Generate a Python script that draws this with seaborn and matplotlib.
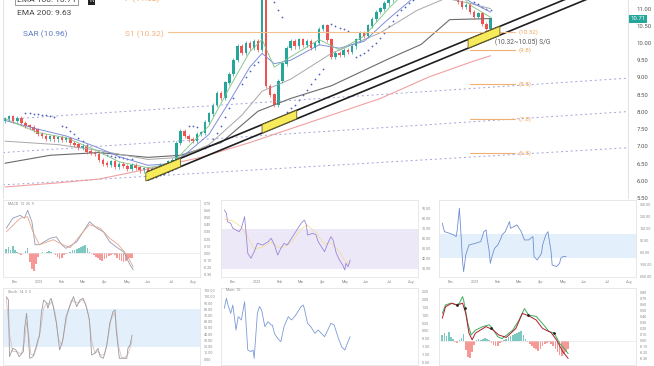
import matplotlib
matplotlib.use("Agg")
import matplotlib.pyplot as plt
import seaborn as sns

# ===================== PRICE DATA =====================
closes = [7.80, 7.86, 7.75, 7.82, 7.68, 7.60, 7.55, 7.48,
          7.35, 7.30, 7.22, 7.28, 7.20, 7.25, 7.18, 7.22,
          7.10, 7.05, 6.95, 7.00, 6.85, 6.80, 6.78,
          6.60, 6.50, 6.45, 6.55, 6.40, 6.48, 6.42, 6.35, 6.45, 6.38, 6.30, 6.35,
          6.25,
          6.35, 6.30, 6.45, 6.40, 6.55, 6.60,
          7.10, 7.45, 7.30,
          7.20, 7.15, 7.35, 7.40,
          7.70, 7.95, 8.20, 8.55, 8.40, 8.85,
          9.10, 9.50,
          9.90, 9.70, 10.00, 9.85, 10.05, 9.80,
          11.60, 8.75, 8.50, 8.20, 8.90, 9.40,
          9.85, 10.05, 9.90, 10.10, 9.95, 10.05, 9.85, 10.00,
          10.40, 10.50, 10.10, 9.60,
          9.70, 9.65, 9.80, 9.75, 9.90,
          10.10, 10.30, 10.20, 10.50, 10.70, 10.90,
          11.00, 11.15, 11.25,
          11.45, 11.60, 11.80, 11.70, 11.95, 12.10, 12.00, 12.20,
          12.30, 12.15, 12.25, 12.05, 11.90, 11.70, 11.60, 11.40,
          11.20, 11.05, 11.10, 10.90, 10.75, 10.85, 10.55, 10.40,
          10.71]
first_open = 7.75
wick = 0.06

ema200_idx = [0, 13, 23, 35, 48, 60, 72, 80, 92, 104, 115, 119]
ema200_val = [5.82, 5.94, 6.05, 6.34, 6.68, 7.11, 7.59, 7.91, 8.39, 9.02, 9.48, 9.63]
ema100_idx = [0, 11, 23, 35, 43, 53, 62, 70, 80, 94, 102, 109, 119]
ema100_val = [6.51, 6.74, 6.82, 6.68, 6.74, 7.11, 8.02, 8.39, 8.76, 9.54, 9.96, 10.68, 10.71]
ema50_idx = [0, 13, 23, 35, 43, 50, 58, 63, 70, 80, 92, 101, 108, 114, 119]
ema50_val = [7.15, 7.05, 6.88, 6.62, 6.68, 7.05, 7.90, 8.60, 8.95, 9.70, 10.30, 10.95, 11.30, 11.15, 11.00]
ema20_idx = [0, 8, 15, 22, 28, 35, 41, 45, 50, 55, 60, 63, 66, 70, 77, 82, 88, 94, 100, 108, 114, 119]
ema20_val = [7.75, 7.50, 7.30, 7.00, 6.70, 6.45, 6.50, 6.85, 7.35, 8.30, 9.30, 9.70, 9.40, 9.50,
             9.95, 9.85, 10.05, 10.70, 11.30, 11.70, 11.20, 10.90]
ema10_idx = ema20_idx
ema10_val = [7.80, 7.40, 7.25, 6.90, 6.55, 6.38, 6.50, 7.00, 7.60, 8.70, 9.75, 10.10, 9.30, 9.60,
             10.10, 9.80, 10.20, 11.00, 11.70, 11.90, 11.10, 10.75]

sar_idx = (list(range(5, 13)) + list(range(14, 21)) + list(range(23, 32)) + list(range(35, 43))
           + list(range(45, 48)) + list(range(49, 57)) + list(range(58, 63)) + list(range(64, 69))
           + list(range(69, 79)) + list(range(80, 85)) + list(range(86, 95)) + list(range(95, 105))
           + list(range(111, 120)))
sar_val = [7.98, 7.97, 7.95, 7.93, 7.92, 7.90, 7.88, 7.86,
           7.60, 7.55, 7.45, 7.35, 7.25, 7.15, 7.05,
           6.85, 6.80, 6.76, 6.72, 6.70, 6.68, 6.66, 6.64, 6.62,
           6.05, 6.08, 6.12, 6.16, 6.20, 6.25, 6.30, 6.38,
           7.60, 7.58, 7.56,
           6.95, 7.05, 7.20, 7.40, 7.60, 7.85, 8.10, 8.40,
           8.80, 9.00, 9.20, 9.35, 9.45,
           11.80, 11.50, 11.20, 10.95, 10.75,
           8.00, 8.10, 8.20, 8.35, 8.50, 8.65, 8.80, 8.95, 9.10, 9.25,
           10.55, 10.50, 10.45, 10.40, 10.35,
           9.60, 9.65, 9.70, 9.80, 9.90, 10.00, 10.15, 10.30, 10.50,
           10.65, 10.80, 10.95, 11.05, 11.15, 11.25, 11.35, 11.45, 11.55, 11.65,
           11.60, 11.50, 11.40, 11.30, 11.20, 11.12, 11.05, 11.00, 10.96]

# trend channel (two solid lines) and dashed guide lines: (start idx, start price, end idx, end price)
trend_upper = (34.8, 6.25, 160.0, 12.38)
trend_lower = (35.0, 6.02, 160.0, 12.12)
guide_lines = [(-0.5, 7.78, 152.7, 8.98), (-0.5, 6.82, 152.7, 8.01), (-0.5, 5.88, 152.7, 6.96)]
zone_ranges = [(34.5, 43.0), (63.0, 71.5), (113.5, 121.3)]
s1_level = 10.32
target_levels = [9.8, 8.8, 7.8, 6.8]
target_labels = ["(9.8)", "(8.8)", "(7.8)", "(6.8)"]
price_ticks = [5.5, 6.0, 6.5, 7.0, 7.5, 8.0, 8.5, 9.0, 9.5, 10.0, 10.5, 11.0]
last_price = 10.71

# ===================== INDICATOR DATA =====================
month_pos = [8, 31, 52, 72, 92, 113, 133, 155, 175]
month_labels = ["Dec", "2023", "Feb", "Mar", "Apr", "May", "Jun", "Jul", "Aug"]

macd_idx = [0, 6, 13, 17, 20, 24, 27, 31, 41, 47, 52, 56, 66, 75, 78, 85, 91, 97, 103, 110, 116, 119]
macd_val = [0.35, 0.49, 0.53, 0.49, 0.60, 0.44, 0.12, 0.12, 0.21, 0.23, 0.12, 0.07, 0.16, 0.37,
            0.44, 0.35, 0.30, 0.16, 0.09, 0.02, -0.16, -0.23]
signal_idx = [0, 13, 20, 25, 31, 44, 53, 60, 72, 78, 88, 97, 105, 113, 119]
signal_val = [0.30, 0.49, 0.51, 0.30, 0.12, 0.19, 0.12, 0.08, 0.30, 0.40, 0.35, 0.21, 0.12, -0.02, -0.19]
hist_idx = list(range(0, 120, 2))
hist_val = [0.06, 0.09, 0.05, 0.10, 0.04, 0.02, -0.01, -0.02, 0.01, 0.03,
            0.08, -0.12, -0.22, -0.25, -0.15, -0.05, 0.01, 0.02, 0.01, 0.02,
            0.03, 0.02, 0.01, -0.02, -0.05, -0.08, -0.07, -0.03, -0.01, 0.01,
            0.02, 0.04, 0.05, 0.06, 0.08, 0.09, 0.10, 0.11, 0.07, 0.02,
            -0.01, -0.03, -0.05, -0.07, -0.09, -0.10, -0.08, -0.06, -0.04, -0.02,
            -0.01, -0.03, -0.06, -0.09, -0.11, -0.12, -0.10, -0.08, -0.07, -0.06]

rsi_idx = [0, 2, 3, 6, 8, 11, 14, 16, 19, 20, 22, 25, 28, 31, 36, 41, 44, 47, 50, 53, 56, 59,
           63, 67, 72, 75, 77, 78, 83, 86, 88, 91, 94, 97, 100, 102, 105, 108, 111, 113, 114, 116, 118]
rsi_val = [89, 85.7, 77.3, 75.7, 70.7, 69, 67.3, 70.7, 82.3, 70.7, 45.7, 40.7, 47.3, 55.7, 54,
           57.3, 60.7, 54, 44, 50.7, 55.7, 54, 60.7, 67.3, 75.7, 79, 74, 64, 65.7, 64, 57.3,
           52.3, 47.3, 55.7, 62.3, 59, 45.7, 39, 34, 29, 35.7, 32.3, 39]
rsi_ma_idx = [0, 8, 16, 22, 28, 36, 44, 50, 56, 63, 72, 78, 86, 94, 100, 108, 113, 118]
rsi_ma_val = [80, 78, 72, 62, 50, 52, 57, 52, 52, 57, 70, 74, 66, 55, 56, 47, 38, 35]

cci_idx = [0, 2, 7, 11, 13, 14, 16, 17, 19, 20, 22, 25, 31, 36, 39, 41, 42, 44, 45, 47, 49, 52,
           55, 56, 59, 63, 64, 67, 70, 74, 77, 81, 85, 86, 89, 93, 94, 97, 99, 100, 102, 103,
           107, 110, 111, 113, 116]
cci_val = [192, 122, 108, 94, 81, 136, 317, 178, -128, -211, -72, 11, 25, 39, 122, 136, 67, -44,
           -142, -72, -17, 11, 67, 94, 122, 206, 150, 164, 178, 122, 53, 53, 81, -86, -114, -58,
           11, 94, 122, 67, -44, -156, -169, -142, -100, -86, -86]

stk_idx = [0, 2, 3, 6, 9, 12, 16, 17, 19, 20, 22, 25, 28, 30, 31, 33, 35, 38, 39, 41, 42, 44,
           47, 50, 53, 56, 60, 63, 66, 69, 72, 75, 78, 80, 83, 86, 88, 91, 94, 97, 100, 102, 103,
           106, 110, 113, 114, 116, 118]
stk_val = [100.4, 95, 3.9, 17.3, 14.6, 3.9, 12, 46.8, 73.6, 52, 1.3, 3.9, 20, 33.4, 36.1, 76.3,
           95, 89.6, 81.6, 95, 97.7, 84.3, 57.5, 14.6, 30.7, 68.2, 87, 100.4, 84.3, 95, 97.7,
           84.3, 62.9, 6.6, 9.3, 17.3, 3.9, 1.3, 20, 57.5, 76.3, 78.9, 46.8, 1.3, 1.3, 1.3, 17.3,
           22.7, 38.8]
std_idx = [0, 3, 6, 10, 14, 17, 19, 21, 23, 26, 29, 32, 35, 38, 41, 43, 46, 49, 52, 55, 58, 61,
           64, 68, 71, 74, 77, 80, 83, 86, 89, 92, 95, 98, 101, 103, 105, 108, 111, 114, 116, 118]
std_val = [98, 40, 12, 12, 8, 28, 60, 40, 8, 6, 22, 45, 82, 90, 88, 93, 72, 32, 22, 50, 78, 95,
           92, 90, 96, 90, 72, 30, 10, 12, 6, 8, 30, 62, 75, 60, 22, 3, 2, 8, 18, 30]

mom_idx = [0, 2, 3, 6, 8, 11, 13, 16, 19, 20, 22, 25, 27, 28, 31, 33, 35, 38, 41, 44, 45, 47,
           50, 53, 56, 60, 63, 66, 69, 72, 74, 75, 78, 81, 85, 88, 91, 94, 97, 100, 103, 107,
           110, 113, 116, 118]
mom_val = [1.44, 2.08, 1.76, 1.12, 1.65, 0.06, 0.91, 0.70, 1.86, 0.91, -1.21, -1.31, -1.21,
           -1.74, 1.12, 1.55, 1.33, 0.28, 0.59, 0.38, 0.38, -0.15, -0.47, -0.68, 0.28, 0.91,
           0.70, 0.91, 1.23, 1.55, 1.65, 1.44, 0.49, 0.28, -0.15, 0.06, -0.15, -0.36, 0.06, 0.49,
           0.38, -0.47, -1.00, -1.21, -0.68, -0.36]

macd2_idx = [0, 3, 8, 13, 16, 19, 20, 24, 27, 31, 38, 44, 47, 52, 56, 66, 72, 77, 81, 88, 94,
             100, 105, 110, 114, 118]
macd2_val = [0.46, 0.60, 0.63, 0.60, 0.63, 0.74, 0.68, 0.29, 0.10, 0.18, 0.24, 0.27, 0.21, 0.07,
             0.04, 0.18, 0.35, 0.54, 0.43, 0.41, 0.29, 0.16, 0.13, -0.04, -0.12, -0.21]
sig2_idx = [0, 3, 9, 14, 19, 22, 25, 28, 31, 41, 47, 53, 60, 69, 75, 81, 88, 94, 102, 107, 113, 118]
sig2_val = [0.38, 0.57, 0.63, 0.60, 0.63, 0.46, 0.13, 0.02, 0.13, 0.24, 0.19, 0.10, 0.06, 0.21,
            0.46, 0.42, 0.35, 0.21, 0.14, 0.02, -0.18, -0.29]
hist2_val = [0.10, 0.14, 0.08, 0.15, 0.06, 0.03, -0.02, -0.03, 0.02, 0.05,
             0.12, -0.15, -0.27, -0.29, -0.18, -0.06, 0.02, 0.03, 0.02, 0.04,
             0.05, 0.03, 0.02, -0.03, -0.07, -0.09, -0.08, -0.04, -0.01, 0.02,
             0.04, 0.06, 0.08, 0.10, 0.12, 0.13, 0.15, 0.16, 0.10, 0.03,
             -0.02, -0.05, -0.08, -0.11, -0.14, -0.17, -0.13, -0.09, -0.05, -0.03,
             -0.02, -0.05, -0.09, -0.14, -0.19, -0.23, -0.25, -0.22, -0.18, -0.14]
cross_idx = [14, 21, 46, 80, 105]
cross_val = [0.60, 0.55, 0.21, 0.43, 0.13]

# ===================== STYLE =====================
sns.set_theme(style="white")
plt.rcParams["font.family"] = ["Roboto", "DejaVu Sans"]

GREEN, RED = "#26a69a", "#ef5350"
W, H = 654, 366


def rect(x0, y0, x1, y1):
    return [x0 / W, 1 - y1 / H, (x1 - x0) / W, (y1 - y0) / H]


def ftext(x, y, s, **kw):
    fig.text(x / W, 1 - y / H, s, va="center", **kw)


fig = plt.figure(figsize=(W / 100, H / 100), dpi=100)

# ===================== MAIN PRICE CHART =====================
ax = fig.add_axes(rect(3, 0, 628, 198))
ax.set_xlim(-0.5, 152.7)
ax.set_ylim(11.25 - 198 / 35, 11.25)

for x0, y0, x1, y1 in guide_lines:
    ax.plot([x0, x1], [y0, y1], color="#9fa3d9", lw=0.7, ls=(0, (2, 3)))

sns.lineplot(x=ema200_idx, y=ema200_val, ax=ax, color="#f0a0a0", lw=0.8)
sns.lineplot(x=ema100_idx, y=ema100_val, ax=ax, color="#6b6b6b", lw=0.8)
sns.lineplot(x=ema50_idx, y=ema50_val, ax=ax, color="#a8a8a8", lw=0.7)
sns.lineplot(x=ema20_idx, y=ema20_val, ax=ax, color="#7f8fdc", lw=0.7)
sns.lineplot(x=ema10_idx, y=ema10_val, ax=ax, color="#8cc98f", lw=0.7)

# candles
opens = [first_open] + closes[:-1]
idx = list(range(len(closes)))
cols = [GREEN if c >= o else RED for o, c in zip(opens, closes)]
lows = [min(o, c) - wick for o, c in zip(opens, closes)]
highs = [max(o, c) + wick for o, c in zip(opens, closes)]
ax.vlines(idx, lows, highs, colors=cols, lw=0.5)
ax.bar(idx, [abs(c - o) + 0.01 for o, c in zip(opens, closes)],
       bottom=[min(o, c) for o, c in zip(opens, closes)], width=0.6, color=cols, linewidth=0)

sns.scatterplot(x=sar_idx, y=sar_val, ax=ax, s=1.6, color="#4a5fc1", linewidth=0)

# trend channel
for x0, y0, x1, y1 in (trend_upper, trend_lower):
    ax.plot([x0, x1], [y0, y1], color="#1e1e1e", lw=1.2)


def on_line(line, x):
    x0, y0, x1, y1 = line
    return y0 + (y1 - y0) * (x - x0) / (x1 - x0)


for a, b in zone_ranges:
    xs = [a, b, b, a]
    ys = [on_line(trend_upper, a), on_line(trend_upper, b), on_line(trend_lower, b), on_line(trend_lower, a)]
    ax.fill(xs, ys, facecolor="#f7ea5b", edgecolor="#6b6220", lw=0.6, zorder=5)

# support / target levels
ax.plot([40, 125], [s1_level, s1_level], color="#f2c08f", lw=0.8)
ax.text(126, s1_level, f"({s1_level:.2f})", color="#f0a862", fontsize=4.5, va="center")
ax.text(120, 10.03, "(10.32~10.05) S/G", color="#555555", fontsize=4.8, va="center")
for lvl, lab in zip(target_levels, target_labels):
    ax.plot([114, 125], [lvl, lvl], color="#f0b070", lw=0.8)
    ax.text(126, lvl, lab, color="#f0a862", fontsize=4.5, va="center")
ax.text(126, 11.34, "(11.02)", color="#f0a862", fontsize=4.5, va="center")

ax.yaxis.tick_right()
ax.set_yticks(price_ticks, [f"{t:.2f}" for t in price_ticks])
ax.tick_params(axis="y", length=0, labelsize=4.3, colors="#555555", pad=6)
ax.set_xticks([])
for s in ["top", "bottom"]:
    ax.spines[s].set_visible(False)
for s in ["left", "right"]:
    ax.spines[s].set_color("#dddddd")
    ax.spines[s].set_linewidth(0.6)

ax.text(153.2, last_price, f"{last_price:.2f}", color="white", fontsize=4.3, va="center",
        bbox=dict(boxstyle="square,pad=0.25", fc=GREEN, ec="none"), clip_on=False)

# legend texts
ftext(17, 0, "EMA 100: 10.71", color="#444444", fontsize=6,
      bbox=dict(boxstyle="square,pad=0.2", fc="white", ec="#888888", lw=0.6))
ftext(89, 0, "R", color="white", fontsize=5, bbox=dict(boxstyle="square,pad=0.2", fc="#222222", ec="none"))
ftext(17, 13, "EMA 200: 9.63", color="#444444", fontsize=6)
ftext(23, 34, "SAR (10.96)", color="#5b7bc4", fontsize=6)
ftext(125, -1, "P (11.02)", color="#f0a862", fontsize=6)
ftext(125, 34, "S1 (10.32)", color="#f2b07e", fontsize=6)

# ===================== INDICATOR PANELS =====================


def panel(col, row, ylim, ticks, fmt="{:.2f}"):
    ox = col * 218
    top, bot = (200, 277) if row == 0 else (288, 365)
    a = fig.add_axes(rect(ox + 3, top, ox + 200, bot))
    a.set_xlim(-3.1, 181.6)
    a.set_ylim(*ylim)
    a.yaxis.tick_right()
    a.set_yticks(ticks, [fmt.format(t) for t in ticks])
    if row == 0:
        a.set_xticks(month_pos, month_labels)
    else:
        a.set_xticks([])
    a.tick_params(length=0, labelsize=2.6, colors="#888888", pad=2.5)
    for s in a.spines.values():
        s.set_color("#e4e4e4")
        s.set_linewidth(0.6)
    return a


def histogram(a, xs, vals):
    a.bar(xs, vals, width=1.6, color=[GREEN if v >= 0 else RED for v in vals], alpha=0.6, linewidth=0)
    a.axhline(0, color="#e0e0e0", lw=0.4)


# MACD
a1 = panel(0, 0, (-0.33, 0.744), [0.7, 0.6, 0.5, 0.4, 0.3, 0.2, 0.1, 0.0, -0.1, -0.2, -0.3])
histogram(a1, hist_idx, hist_val)
sns.lineplot(x=macd_idx, y=macd_val, ax=a1, color="#8e9bb8", lw=0.6)
sns.lineplot(x=signal_idx, y=signal_val, ax=a1, color="#e8a48a", lw=0.6)
a1.text(2, 0.69, "MACD  12  26  9", fontsize=2.6, color="#888888", va="center")

# RSI
a2 = panel(1, 0, (22, 99), [90, 80, 70, 60, 50, 40, 30])
a2.axhspan(30, 70, color="#ece8f8", lw=0)
sns.lineplot(x=rsi_ma_idx, y=rsi_ma_val, ax=a2, color="#f3dc8a", lw=0.5)
sns.lineplot(x=rsi_idx, y=rsi_val, ax=a2, color="#9b86d6", lw=0.6)

# CCI
a3 = panel(2, 0, (-256, 386), [350, 250, 150, 50, -50, -150, -250])
a3.axhspan(-100, 100, color="#e3f0fb", lw=0)
sns.lineplot(x=cci_idx, y=cci_val, ax=a3, color="#6f8fd0", lw=0.6)

# Stochastic
a4 = panel(0, 1, (-9.5, 114.3), [110, 100, 90, 80, 70, 60, 50, 40, 30, 20, 10, 0])
a4.axhspan(20, 80, color="#e3f0fb", lw=0)
sns.lineplot(x=std_idx, y=std_val, ax=a4, color="#dcc0c0", lw=0.6)
sns.lineplot(x=stk_idx, y=stk_val, ax=a4, color="#9a9a9a", lw=0.6)
a4.text(2, 108, "Stoch  14  3  3", fontsize=2.6, color="#888888", va="center")

# Momentum
a5 = panel(1, 1, (-2.16, 2.73), [2.5, 2.0, 1.5, 1.0, 0.5, 0.0, -0.5, -1.0, -1.5, -2.0])
sns.lineplot(x=mom_idx, y=mom_val, ax=a5, color="#7c9bd6", lw=0.6)
a5.text(2, 2.6, "Mom  10", fontsize=2.6, color="#888888", va="center")

# MACD with crossings
a6 = panel(2, 1, (-0.40, 0.883), [0.8, 0.7, 0.6, 0.5, 0.4, 0.3, 0.2, 0.1, 0.0, -0.1, -0.2, -0.3])
histogram(a6, hist_idx, hist2_val)
sns.lineplot(x=macd2_idx, y=macd2_val, ax=a6, color="#3fae5a", lw=0.7)
sns.lineplot(x=sig2_idx, y=sig2_val, ax=a6, color="#b01c2e", lw=0.7)
sns.scatterplot(x=cross_idx, y=cross_val, ax=a6, s=4, color="#222222", linewidth=0, zorder=5)

fig.savefig("out.png", dpi=100)
